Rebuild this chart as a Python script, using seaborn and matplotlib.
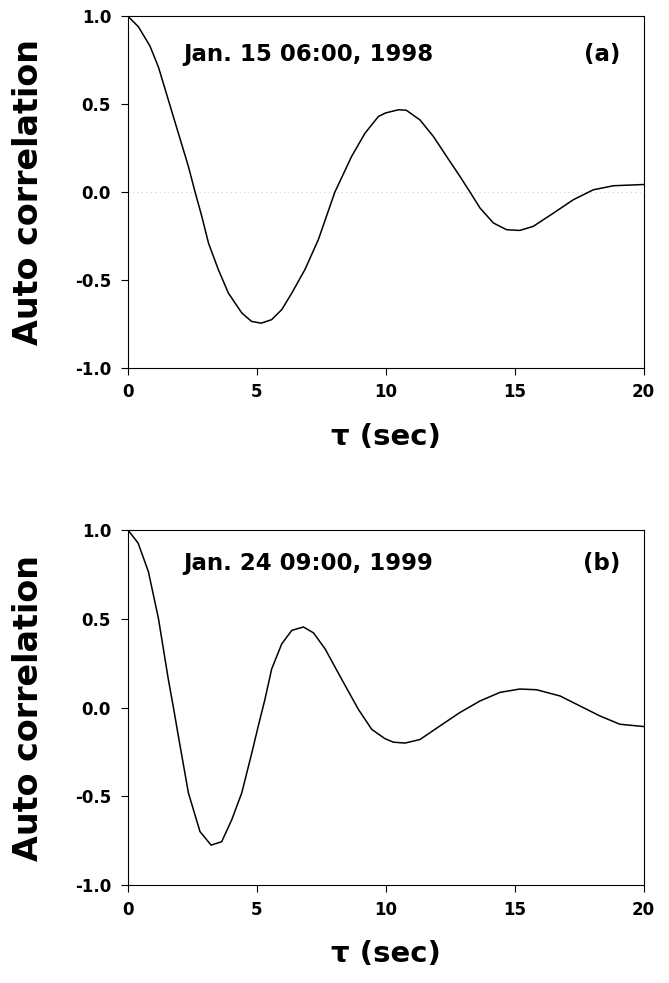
import matplotlib
matplotlib.use("Agg")
import matplotlib.pyplot as plt
import seaborn as sns
import pandas as pd

# Panel (a): Jan. 15 06:00, 1998
tau_a = [0.0, 0.41, 0.86, 1.19, 1.57, 1.96, 2.35, 2.61, 2.87, 3.13, 3.51, 3.9,
         4.42, 4.8, 5.17, 5.58, 5.97, 6.36, 6.87, 7.39, 8.03, 8.68, 9.2, 9.72,
         10.0, 10.5, 10.8, 11.33, 11.85, 12.36, 12.88, 13.27, 13.66, 14.18,
         14.69, 15.2, 15.72, 16.5, 17.27, 18.05, 18.83, 20.0]
acf_a = [1.0, 0.94, 0.83, 0.71, 0.525, 0.335, 0.146, 0.0, -0.138, -0.29, -0.44, -0.574,
         -0.687, -0.735, -0.745, -0.725, -0.668, -0.574, -0.44, -0.27, 0.0, 0.203, 0.335, 0.43,
         0.45, 0.468, 0.465, 0.41, 0.316, 0.203, 0.089, 0.0, -0.091, -0.176,
         -0.214, -0.218, -0.195, -0.12, -0.044, 0.013, 0.036, 0.043]

# Panel (b): Jan. 24 09:00, 1999
tau_b = [0.0, 0.4, 0.8, 1.19, 1.57, 1.77, 1.96, 2.35, 2.8, 3.23, 3.64, 4.03,
         4.42, 4.81, 5.06, 5.32, 5.58, 5.97, 6.36, 6.81, 7.2, 7.65, 8.29, 8.94,
         9.46, 9.97, 10.3, 10.75, 11.33, 12.1, 12.88, 13.66, 14.43, 15.2, 15.85,
         16.76, 17.53, 18.3, 19.08, 20.0]
acf_b = [1.0, 0.925, 0.764, 0.5, 0.16, 0.0, -0.16, -0.48, -0.698, -0.774, -0.755, -0.632,
         -0.48, -0.255, -0.104, 0.047, 0.217, 0.358, 0.434, 0.453, 0.42, 0.33, 0.16, -0.01,
         -0.123, -0.175, -0.195, -0.2, -0.18, -0.104, -0.028, 0.037, 0.085, 0.104, 0.1,
         0.065, 0.009, -0.047, -0.094, -0.107]

panels = [
    (tau_a, acf_a, "Jan. 15 06:00, 1998", "(a)", 0.78),
    (tau_b, acf_b, "Jan. 24 09:00, 1999", "(b)", 0.81),
]

x_ticks = [0, 5, 10, 15, 20]
y_ticks = [-1.0, -0.5, 0.0, 0.5, 1.0]

sns.set_style("ticks")
plt.rcParams['font.family'] = ['DejaVu Sans']
plt.rcParams['font.weight'] = 'bold'
plt.rcParams['text.color'] = 'black'
plt.rcParams['axes.labelcolor'] = 'black'

fig = plt.figure(figsize=(6.69, 9.83), dpi=100)
ax_top = fig.add_axes([0.191, 0.6256, 0.771, 0.358])
ax_bot = fig.add_axes([0.191, 0.0994, 0.771, 0.3617])

for ax, (tau, acf, date_txt, tag, ty) in zip([ax_top, ax_bot], panels):
    df = pd.DataFrame({'tau': tau, 'acf': acf})
    if ax is ax_top:
        ax.axhline(0, color='#cccccc', lw=0.8, ls=(0, (1, 3)), zorder=1)
    sns.lineplot(data=df, x='tau', y='acf', color='black', lw=1.1,
                 estimator=None, sort=False, ax=ax, zorder=3)
    ax.set_xlim(0, 20)
    ax.set_ylim(-1.0, 1.0)
    ax.set_xticks(x_ticks)
    ax.set_xticklabels([str(t) for t in x_ticks])
    ax.set_yticks(y_ticks)
    ax.set_yticklabels([f"{t:.1f}" for t in y_ticks])
    ax.tick_params(axis='both', direction='out', length=5, width=0.8,
                   labelsize=12, colors='black')
    ax.tick_params(axis='x', pad=6)
    ax.tick_params(axis='y', pad=7)
    for lab in ax.get_xticklabels() + ax.get_yticklabels():
        lab.set_fontweight('bold')
    for sp in ax.spines.values():
        sp.set_linewidth(0.8)
        sp.set_color('black')
    ax.set_xlabel("τ (sec)", fontsize=21, fontweight='bold', color='black')
    ax.set_ylabel("Auto correlation", fontsize=24, fontweight='bold', color='black')
    ax.xaxis.set_label_coords(0.5, -0.155)
    ax.yaxis.set_label_coords(-0.16, 0.5)
    ax.text(2.15, ty, date_txt, fontsize=16.5, fontweight='bold', ha='left', va='center',
            color='black')
    ax.text(19.1, ty, tag, fontsize=16.5, fontweight='bold', ha='right', va='center',
            color='black')

fig.savefig("out.png", dpi=100)
